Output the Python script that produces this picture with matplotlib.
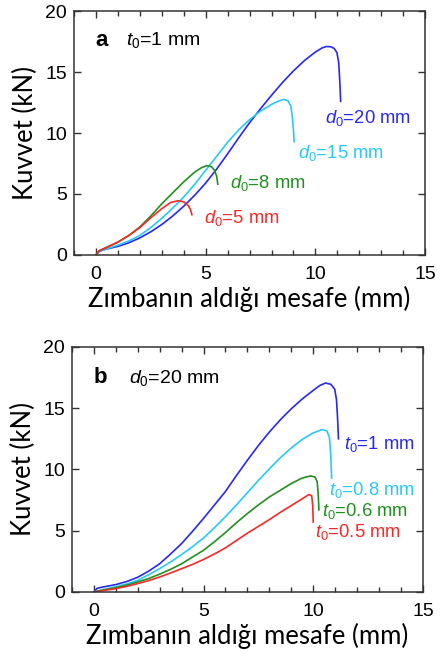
import matplotlib
matplotlib.use('Agg')
import matplotlib.pyplot as plt
from matplotlib.ticker import MultipleLocator

plt.rcParams['mathtext.fontset'] = 'custom'
plt.rcParams['mathtext.rm'] = 'Liberation Sans'
plt.rcParams['mathtext.it'] = 'Liberation Sans:italic'

# --- panel a: t0 = 1 mm, various d0 ---
a_x20 = [0, 0.15, 0.4, 1.0, 1.5, 2.0, 2.5, 3.0, 3.5, 4.0, 4.5, 5.0, 5.5, 6.0, 6.5, 7.0, 7.5,
         8.0, 8.5, 9.0, 9.5, 10.0, 10.3, 10.5, 10.7, 10.85, 10.98, 11.06, 11.1, 11.13, 11.15]
a_y20 = [0, 0.3, 0.45, 0.7, 1.0, 1.4, 1.9, 2.5, 3.2, 4.0, 4.9, 5.9, 7.05, 8.3, 9.6, 10.85, 12.0,
         13.1, 14.15, 15.1, 15.95, 16.65, 16.98, 17.1, 17.08, 16.95, 16.6, 15.8, 14.6, 13.5, 12.6]
a_x15 = [0, 0.15, 0.4, 1.0, 1.5, 2.0, 2.5, 3.0, 3.5, 4.0, 4.5, 5.0, 5.5, 6.0, 6.5, 7.0, 7.5,
         8.0, 8.3, 8.55, 8.75, 8.88, 8.95, 9.0, 9.03]
a_y15 = [0, 0.3, 0.45, 0.8, 1.15, 1.6, 2.25, 3.0, 3.85, 4.75, 5.8, 6.95, 8.1, 9.25, 10.25, 11.1, 11.8,
         12.35, 12.62, 12.76, 12.65, 12.2, 11.3, 10.2, 9.3]
a_x8 = [0, 0.15, 0.4, 1.0, 1.5, 2.0, 2.5, 3.0, 3.5, 4.0, 4.5, 4.8, 5.05, 5.25, 5.4, 5.5, 5.55]
a_y8 = [0, 0.35, 0.55, 1.05, 1.6, 2.3, 3.2, 4.2, 5.1, 6.0, 6.8, 7.15, 7.33, 7.25, 6.95, 6.45, 5.8]
a_x5 = [0, 0.15, 0.4, 1.0, 1.5, 2.0, 2.5, 3.0, 3.4, 3.75, 4.0, 4.2, 4.3, 4.37]
a_y5 = [0, 0.35, 0.55, 1.05, 1.6, 2.25, 3.05, 3.8, 4.3, 4.45, 4.35, 4.05, 3.75, 3.3]

# --- panel b: d0 = 20 mm, various t0 ---
b_x10 = [0, 0.15, 0.4, 1.0, 1.5, 2.0, 2.5, 3.0, 3.5, 4.0, 4.5, 5.0, 5.5, 6.0, 6.5, 7.0, 7.5,
         8.0, 8.5, 9.0, 9.5, 10.0, 10.3, 10.56, 10.8, 10.98, 11.06, 11.1, 11.13, 11.15]
b_y10 = [0, 0.3, 0.4, 0.6, 0.85, 1.2, 1.7, 2.3, 3.1, 3.95, 4.95, 6.0, 7.1, 8.2, 9.5, 10.75, 11.95,
         13.05, 14.05, 14.95, 15.75, 16.45, 16.85, 17.05, 16.95, 16.55, 15.7, 14.5, 13.4, 12.5]
b_x08 = [0, 0.3, 1.0, 1.5, 2.0, 2.5, 3.0, 3.5, 4.0, 4.5, 5.0, 5.5, 6.0, 6.5, 7.0, 7.5, 8.0,
         8.5, 9.0, 9.5, 10.0, 10.4, 10.62, 10.74, 10.8, 10.84]
b_y08 = [0, 0.15, 0.42, 0.65, 0.95, 1.4, 1.9, 2.45, 3.05, 3.7, 4.4, 5.25, 6.15, 7.1, 8.1, 9.1, 10.05,
         10.95, 11.75, 12.45, 12.98, 13.25, 13.15, 12.6, 11.2, 9.3]
b_x06 = [0, 0.3, 1.0, 1.5, 2.0, 2.5, 3.0, 3.5, 4.0, 4.5, 5.0, 5.5, 6.0, 6.5, 7.0, 7.5, 8.0,
         8.5, 9.0, 9.5, 9.88, 10.08, 10.18, 10.23, 10.26]
b_y06 = [0, 0.1, 0.35, 0.55, 0.82, 1.1, 1.45, 1.85, 2.3, 2.85, 3.4, 4.1, 4.85, 5.65, 6.4, 7.1, 7.75,
         8.3, 8.85, 9.3, 9.47, 9.38, 9.0, 7.9, 6.7]
b_x05 = [0, 0.3, 1.0, 1.5, 2.0, 2.5, 3.0, 3.5, 4.0, 4.5, 5.0, 5.5, 6.0, 6.5, 7.0, 7.5, 8.0,
         8.5, 9.0, 9.5, 9.8, 9.93, 9.98, 10.0]
b_y05 = [0, 0.08, 0.27, 0.45, 0.68, 0.93, 1.22, 1.55, 1.9, 2.25, 2.65, 3.1, 3.6, 4.2, 4.8, 5.35, 5.9,
         6.5, 7.05, 7.6, 7.95, 7.85, 7.0, 5.7]

c_blue = '#2828f0'
c_cyan = '#28c8f8'
c_green = '#209020'
c_red = '#f82828'

fig = plt.figure(figsize=(4.41, 6.57), dpi=100)
ax1 = fig.add_axes([0.168, 0.612, 0.796, 0.371])
ax2 = fig.add_axes([0.163, 0.099, 0.796, 0.373])

lw = 1.2
ax1.plot(a_x20, a_y20, color=c_blue, lw=lw)
ax1.plot(a_x15, a_y15, color=c_cyan, lw=lw)
ax1.plot(a_x8, a_y8, color=c_green, lw=lw)
ax1.plot(a_x5, a_y5, color=c_red, lw=lw)

ax2.plot(b_x10, b_y10, color=c_blue, lw=lw)
ax2.plot(b_x08, b_y08, color=c_cyan, lw=lw)
ax2.plot(b_x06, b_y06, color=c_green, lw=lw)
ax2.plot(b_x05, b_y05, color=c_red, lw=lw)

tfont = 'Liberation Sans'
ts = 13.3
ax1.text(-0.05, 17.6, 'a', fontsize=16, fontweight='bold', family=tfont, va='center')
ax1.text(1.35, 17.6, r'$t_0$=1 mm', fontsize=ts + 0.7, family=tfont, va='center')
ax1.text(10.45, 11.2, r'$d_0$=20 mm', fontsize=ts, family=tfont, color=c_blue, va='center')
ax1.text(9.2, 8.35, r'$d_0$=15 mm', fontsize=ts, family=tfont, color=c_cyan, va='center')
ax1.text(6.1, 5.9, r'$d_0$=8 mm', fontsize=ts, family=tfont, color=c_green, va='center')
ax1.text(4.9, 3.0, r'$d_0$=5 mm', fontsize=ts, family=tfont, color=c_red, va='center')

ax2.text(0.0, 17.5, 'b', fontsize=16, fontweight='bold', family=tfont, va='center')
ax2.text(1.6, 17.5, r'$d_0$=20 mm', fontsize=ts + 0.7, family=tfont, va='center')
ax2.text(11.4, 12.1, r'$t_0$=1 mm', fontsize=ts, family=tfont, color=c_blue, va='center')
ax2.text(10.7, 8.3, r'$t_0$=0.8 mm', fontsize=ts, family=tfont, color=c_cyan, va='center')
ax2.text(10.4, 6.6, r'$t_0$=0.6 mm', fontsize=ts, family=tfont, color=c_green, va='center')
ax2.text(10.1, 4.9, r'$t_0$=0.5 mm', fontsize=ts, family=tfont, color=c_red, va='center')

for ax in (ax1, ax2):
    ax.set_xlim(-1, 15)
    ax.set_ylim(0, 20)
    ax.xaxis.set_major_locator(MultipleLocator(5))
    ax.xaxis.set_minor_locator(MultipleLocator(1))
    ax.yaxis.set_major_locator(MultipleLocator(5))
    ax.tick_params(which='both', direction='in', top=True, right=True, color='#333333', width=1.0)
    ax.tick_params(which='major', length=5)
    ax.tick_params(which='minor', length=3.5)
    ax.tick_params(axis='x', pad=8)
    ax.tick_params(axis='y', pad=5)
    for lab in ax.get_xticklabels() + ax.get_yticklabels():
        lab.set_fontfamily(tfont)
        lab.set_fontsize(14)
    for sp in ax.spines.values():
        sp.set_color('#333333')
        sp.set_linewidth(1.1)
    ax.set_xlabel('Zımbanın aldığı mesafe (mm)', fontsize=18.5, family='Lato', labelpad=2)
    ax.set_ylabel('Kuvvet (kN)', fontsize=18.5, family='Lato', labelpad=5)

fig.savefig('out.png', dpi=100)
